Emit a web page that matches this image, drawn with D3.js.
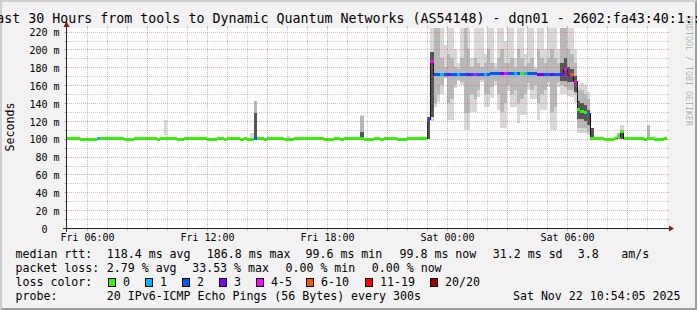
<!DOCTYPE html>
<html><head><meta charset="utf-8">
<script src="https://d3js.org/d3.v7.min.js"></script>
<style>
html,body{margin:0;padding:0;background:#f2f2f2;}
svg{display:block;}
text{font-family:"DejaVu Sans Mono",monospace;fill:#000;}
</style></head><body>
<svg id="chart" width="697" height="310"></svg>
<script>
// ---------------- data ----------------
const titleText = "Last 30 Hours from tools to Dynamic Quantum Networks (AS54148) - dqn01 - 2602:fa43:40:1::1";
const yAxisTitle = "Seconds";
const watermarkText = "RRDTOOL / TOBI OETIKER";
const startTime = new Date(2025, 10, 21, 5, 0, 0);
const endTime = new Date(2025, 10, 22, 11, 0, 0);
const stepMinutes = 10;

// median RTT (ms), one value per 10-minute step from Fri 05:00
const medianRtt = [
 100.4,100.4,100.4,100.4,99.6,99.6,99.6,99.6,99.6,100.6,
 100.4,100.4,100.4,100.4,100.4,100.4,100.4,99.6,99.6,99.6,
 100.4,100.4,100.4,100.4,100.4,100.4,100.4,99.6,100.4,100.4,
 100.4,100.4,100.4,99.6,99.6,100.4,100.4,100.4,100.4,100.4,
 100.4,100.4,99.6,99.6,99.6,100.4,100.4,99.6,100.4,100.4,
 100.4,100.4,99.6,100.4,99.6,99.6,100.4,100.4,100.4,99.6,
 100.4,100.4,100.4,100.4,100.4,99.6,99.6,99.6,100.4,100.4,
 100.4,100.4,100.4,100.4,100.4,100.4,100.4,99.6,99.6,99.6,
 100.4,100.4,99.6,100.4,100.4,100.4,100.4,100.4,100.4,99.6,
 99.6,99.6,100.4,100.4,99.6,100.4,100.4,100.4,100.4,99.6,
 99.6,99.6,100.4,100.4,100.4,100.4,100.4,100.4,121,186.8,
 171.4,171.4,171.4,171.4,171.4,171.4,171.4,171.4,171.4,171.4,
 171.4,171.4,171.4,171.4,171.4,171.4,171.4,172.5,172.5,172.5,
 172.5,172.5,172.5,172.5,172.5,172.5,172.5,172.5,172.5,172.5,
 172.5,171.4,171.4,171.4,171.4,171.4,171.4,171.4,171.4,177.5,
 171,171.5,164,133,130,129,128.5,100.4,100.4,100.4,
 100.4,99.6,99.6,99.6,100.4,103,108,100.4,100.4,100.4,
 100.4,100.4,100.4,99.6,100.4,100.4,99.6,99.6,99.6,99.8
];
// lost pings (of 20) per step
const lossCount = [
 0,0,0,0,0,0,0,0,0,1,
 0,0,0,0,0,0,0,0,0,0,
 0,0,0,0,0,0,0,0,0,0,
 0,0,0,0,0,0,0,0,0,0,
 0,0,0,0,0,0,0,0,0,0,
 0,0,0,0,0,0,2,0,0,0,
 0,0,0,0,0,0,0,0,0,0,
 0,0,0,0,0,0,0,0,0,0,
 0,0,0,0,0,0,0,0,0,0,
 0,0,0,0,0,0,0,0,0,0,
 0,0,0,0,0,0,0,0,2,4,
 2,2,1,2,3,2,2,1,2,2,
 3,2,4,2,2,1,2,2,2,2,
 3,4,2,2,1,2,0,1,2,2,
 2,3,3,2,2,3,2,2,3,4,
 3,7,4,0,0,0,2,0,0,0,
 0,0,0,0,0,0,0,0,0,0,
 0,0,0,0,0,0,0,0,0,0
];
// smoke: [step, low ms, high ms]
const smokeOuter = [
 [29,104,121],[55,100,106],[66,100,103],[88,100,127],
 [109,120,230],[110,135,230],[111,141,230],[112,150,230],[113,168,205],[114,121,230],[115,121,230],
 [116,157,200],[117,165,185],[118,160,230],[119,110,230],[120,110,230],[121,130,190],[122,130,230],
 [123,147,230],[124,163,230],[125,135,195],[126,135,230],[127,146,230],[128,160,185],[129,132,230],
 [130,112,230],[131,112,210],[132,153,230],[133,136,230],[134,136,190],[135,118,230],[136,127,230],
 [137,127,195],[138,155,230],[139,144,230],[140,144,180],[141,121,230],[142,132,230],[143,132,200],
 [144,158,230],[145,110,230],[146,110,230],[147,158,200],[148,150,230],[149,150,230],[150,148,230],
 [151,147,230],[152,140,200],[153,106,160],[154,106,162],[155,106,160],[156,104,152],
 [166,100,115],[176,100,103]
];
const smokeInner = [
 [56,100,142],[88,100,125],[165,100,106],[174,101,115],
 [110,140,230],[111,150,230],[112,160,190],[113,168,180],[114,140,195],[115,145,190],[116,160,180],
 [117,166,178],[118,163,190],[119,129,230],[120,129,200],[121,150,180],[122,145,190],[123,155,185],
 [124,166,180],[125,150,185],[126,150,200],[127,158,185],[128,165,178],[129,150,190],[130,130,200],
 [131,140,185],[132,160,185],[133,150,190],[134,155,180],[135,140,200],[136,145,190],[137,150,182],
 [138,162,185],[139,155,190],[140,160,178],[141,140,200],[142,150,190],[143,155,185],[144,163,190],
 [145,130,200],[146,135,190],[147,163,185],[148,160,230],[149,158,230],[150,155,200],[151,155,195],
 [152,150,185],[153,112,155],[154,112,155],[155,112,150],[156,108,145]
];
const smokeCore = [
 [56,100,129],[88,100,108],[108,100,124],[109,124,197],[148,165,185],[149,165,190],[150,163,180],
 [151,163,178],[152,152,170],[153,122,142],[154,122,140],[155,120,138],[156,115,132],[157,100,112],
 [166,100,108]
];

const yTickValues = [0,20,40,60,80,100,120,140,160,180,200,220];
const yTickLabels = ["0  ","20 m","40 m","60 m","80 m","100 m","120 m","140 m","160 m","180 m","200 m","220 m"];
const xTickTimes = [new Date(2025,10,21,6), new Date(2025,10,21,12), new Date(2025,10,21,18), new Date(2025,10,22,0), new Date(2025,10,22,6)];
const xTickLabels = ["Fri 06:00","Fri 12:00","Fri 18:00","Sat 00:00","Sat 06:00"];

const lossBuckets = ["0","1","2","3","4-5","6-10","11-19","20/20"];
const lossColors = ["#26ff00","#00b8ff","#0059ff","#7e00ff","#ff00ff","#ff5500","#ff0000","#a10000"];
const rttLabel = "median rtt:";
const rttStats = ["118.4 ms avg","186.8 ms max","99.6 ms min","99.8 ms now","31.2 ms sd","3.8","am/s"];
const lossLabel = "packet loss:";
const lossStats = ["2.79 % avg","33.53 % max","0.00 % min","0.00 % now"];
const colorLabel = "loss color:";
const probeLabel = "probe:";
const probeText = "20 IPv6-ICMP Echo Pings (56 Bytes) every 300s";
const dateText = "Sat Nov 22 10:54:05 2025";

// ---------------- layout ----------------
const W = 697, H = 310, X0 = 67, X1 = 667, Y0 = 228, Y1 = 28;
const rttX = [106.8,206.8,305.5,399.5,492.8,577.8,621.2];
const lossX = [106.8,192.2,285.5,371.8];
const boxX = [108.5,145.5,182.5,219.5,256.5,306.5,365.5,430.5];
const rowY = [258.3,272,286,300];

const svg = d3.select("#chart");
const x = d3.scaleTime().domain([startTime, endTime]).range([X0, X1]);
const y = d3.scaleLinear().domain([0, 224]).range([Y0, Y1]);
const stepT = i => d3.timeMinute.offset(startTime, i * stepMinutes);
const bucket = n => n <= 3 ? n : n <= 5 ? 4 : n <= 10 ? 5 : n <= 19 ? 6 : 7;

// background + 3D frame
svg.append("rect").attr("width", W).attr("height", H).attr("fill", "#f2f2f2");
svg.append("path").attr("d", `M0,0H${W}L${W-2},2H2V${H-2}L0,${H}Z`).attr("fill", "#cfcfcf");
svg.append("path").attr("d", `M${W},0V${H}H0L2,${H-2}H${W-2}V2Z`).attr("fill", "#9e9e9e");

// canvas
svg.append("rect").attr("x", X0).attr("y", Y1).attr("width", X1 - X0).attr("height", Y0 - Y1).attr("fill", "#fff");
svg.append("clipPath").attr("id", "clip").append("rect").attr("x", X0).attr("y", Y1).attr("width", X1 - X0).attr("height", Y0 - Y1);
const plot = svg.append("g").attr("clip-path", "url(#clip)").attr("shape-rendering", "crispEdges");

function bands(list, color) {
  plot.append("g").selectAll("rect").data(list).join("rect")
    .attr("x", d => x(stepT(d[0])))
    .attr("width", d => x(stepT(d[0] + 1)) - x(stepT(d[0])))
    .attr("y", d => y(d[2]))
    .attr("height", d => y(d[1]) - y(d[2]))
    .attr("fill", color);
}
bands(smokeOuter, "#d8d8d8");
bands(smokeInner, "#b8b8b8");
bands(smokeCore, "#555555");

// median step connectors
const pts = medianRtt.map((v, i) => ({t: stepT(i), v}));
pts.push({t: stepT(medianRtt.length), v: medianRtt[medianRtt.length - 1]});
plot.append("path").datum(pts)
  .attr("d", d3.line().x(d => x(d.t)).y(d => y(d.v)).curve(d3.curveStepAfter))
  .attr("fill", "none").attr("stroke", "#111").attr("stroke-width", 1);
// median coloured by loss
plot.append("g").selectAll("line").data(medianRtt).join("line")
  .attr("x1", (v, i) => x(stepT(i))).attr("x2", (v, i) => x(stepT(i + 1)))
  .attr("y1", v => y(v)).attr("y2", v => y(v))
  .attr("stroke", (v, i) => lossColors[bucket(lossCount[i])]).attr("stroke-width", 3);

// grid
const grid = svg.append("g").attr("shape-rendering", "crispEdges");
const minorC = "rgba(143,143,143,0.45)", majorC = "rgba(222,79,79,0.45)";
y.ticks(22).filter(v => v > 0).forEach(v => {
  const major = v % 20 === 0, c = major ? majorC : minorC, yy = Math.round(y(v)) + 0.5;
  grid.append("line").attr("x1", X0 - 3).attr("x2", X0 - 1).attr("y1", yy).attr("y2", yy).attr("stroke", c);
  grid.append("line").attr("x1", X1).attr("x2", X1 + 2).attr("y1", yy).attr("y2", yy).attr("stroke", c);
  grid.append("line").attr("x1", X0).attr("x2", X1).attr("y1", yy).attr("y2", yy).attr("stroke", c).attr("stroke-dasharray", "1,1");
});
x.ticks(d3.timeHour.every(1)).filter(t => t > startTime && t < endTime).forEach(t => {
  const major = t.getHours() % 3 === 0, c = major ? majorC : minorC, xx = Math.round(x(t)) + 0.5;
  grid.append("line").attr("x1", xx).attr("x2", xx).attr("y1", Y1 - 2).attr("y2", Y1).attr("stroke", c);
  grid.append("line").attr("x1", xx).attr("x2", xx).attr("y1", Y0 + 1).attr("y2", Y0 + 3).attr("stroke", c);
  grid.append("line").attr("x1", xx).attr("x2", xx).attr("y1", Y1).attr("y2", Y0).attr("stroke", c).attr("stroke-dasharray", "1,1");
});

// axes lines + arrows
const ax = svg.append("g").attr("shape-rendering", "crispEdges");
ax.append("line").attr("x1", X0 - 4).attr("x2", X1 + 4).attr("y1", Y0 + 0.5).attr("y2", Y0 + 0.5).attr("stroke", "#222");
ax.append("line").attr("x1", X0 - 0.5).attr("x2", X0 - 0.5).attr("y1", Y0 + 4).attr("y2", Y1 - 4).attr("stroke", "#222");
svg.append("path").attr("d", `M${X1+2},${Y0-2.5}L${X1+2},${Y0+3.5}L${X1+7},${Y0+0.5}Z`).attr("fill", "#801f1f");
svg.append("path").attr("d", `M${X0-3.5},${Y1-1}L${X0+2.5},${Y1-1}L${X0-0.5},${Y1-7}Z`).attr("fill", "#801f1f");

// axis labels via d3 axes
const yAx = svg.append("g").attr("transform", `translate(${X0},0)`)
  .call(d3.axisLeft(y).tickValues(yTickValues).tickFormat((d, i) => yTickLabels[i]).tickSize(0).tickPadding(7.5));
yAx.select(".domain").remove();
yAx.selectAll("text").attr("font-size", "10px").attr("font-family", "DejaVu Sans Mono").attr("dy", "0.42em")
  .attr("xml:space", "preserve").style("white-space", "pre").style("fill", "#000");
const xAx = svg.append("g").attr("transform", `translate(0,${Y0})`)
  .call(d3.axisBottom(x).tickValues(xTickTimes).tickFormat((d, i) => xTickLabels[i]).tickSize(0).tickPadding(6));
xAx.select(".domain").remove();
xAx.selectAll("text").attr("font-size", "10px").attr("font-family", "DejaVu Sans Mono").style("fill", "#000");

// title, y title, watermark
svg.append("text").attr("x", W / 2).attr("y", 23).attr("text-anchor", "middle").attr("font-size", "13.3px").text(titleText);
svg.append("text").attr("transform", "translate(13.5,127) rotate(-90)").attr("text-anchor", "middle").attr("font-size", "11.6px").text(yAxisTitle);
svg.append("text").attr("transform", "translate(685.5,16) rotate(90)").attr("font-size", "8.3px").style("fill", "rgba(0,0,0,0.3)").text(watermarkText);

// legend
const lg = svg.append("g").attr("font-size", "11.6px").attr("xml:space", "preserve").style("white-space", "pre");
lg.append("text").attr("x", 15.5).attr("y", rowY[0]).text(rttLabel);
rttStats.forEach((s, i) => lg.append("text").attr("x", rttX[i]).attr("y", rowY[0]).text(s));
lg.append("text").attr("x", 15.5).attr("y", rowY[1]).text(lossLabel);
lossStats.forEach((s, i) => lg.append("text").attr("x", lossX[i]).attr("y", rowY[1]).text(s));
lg.append("text").attr("x", 15.5).attr("y", rowY[2]).text(colorLabel);
lossBuckets.forEach((b, i) => {
  lg.append("rect").attr("x", boxX[i]).attr("y", rowY[2] - 7.5).attr("width", 7).attr("height", 8)
    .attr("fill", lossColors[i]).attr("stroke", "#000").attr("stroke-width", 1).attr("shape-rendering", "crispEdges");
  lg.append("text").attr("x", boxX[i] + 14.5).attr("y", rowY[2]).text(b);
});
lg.append("text").attr("x", 15.5).attr("y", rowY[3]).text(probeLabel);
lg.append("text").attr("x", 106.8).attr("y", rowY[3]).text(probeText);
lg.append("text").attr("x", 680.5).attr("y", rowY[3]).attr("text-anchor", "end").text(dateText);
</script>
</body></html>
